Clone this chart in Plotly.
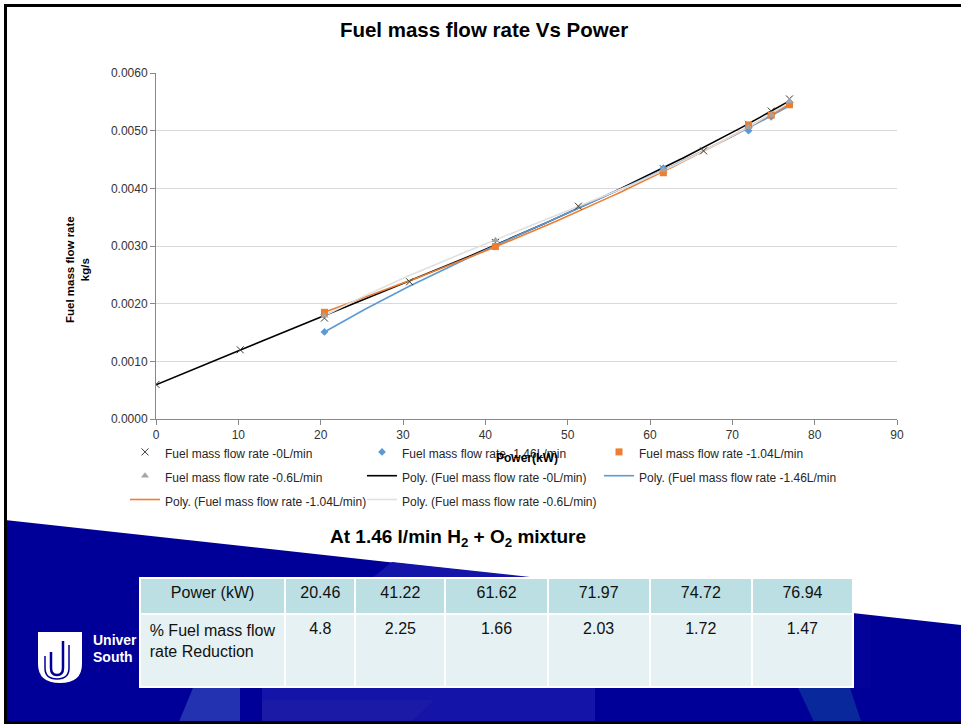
import numpy as np
import plotly.graph_objects as go

# figure size and margins (pixels)
W, H = 961, 724
ML, MR = 120, 40
PW = W - ML - MR


def fx(px):
    # pixel x -> paper fraction
    return (px - ML) / PW


def fy(py):
    # pixel y (from top) -> paper fraction
    return (H - py) / H


def path(points):
    return "M " + " L ".join(f"{fx(x):.5f},{fy(y):.5f}" for x, y in points) + " Z"


# ---- data ----
power_0 = [0, 10.23, 20.46, 30.8, 41.22, 51.3, 61.62, 66.5, 71.97, 74.72, 76.94]
fuel_0 = [0.00060, 0.00120, 0.00175, 0.00238, 0.00306, 0.00369, 0.00434, 0.00465, 0.00511, 0.00534, 0.00555]

power_h = [20.46, 41.22, 61.62, 71.97, 74.72, 76.94]
fuel_146 = [0.00151, 0.00300, 0.00435, 0.00500, 0.00524, 0.00547]
fuel_104 = [0.00185, 0.00299, 0.00427, 0.00510, 0.00527, 0.00545]
fuel_06 = [0.00179, 0.00310, 0.00432, 0.00506, 0.00527, 0.00551]

table_power = ["20.46", "41.22", "61.62", "71.97", "74.72", "76.94"]
table_reduction = ["4.8", "2.25", "1.66", "2.03", "1.72", "1.47"]

FONT = "Liberation Sans, Arial, sans-serif"


def lg(name):
    # small text, but keep the legend's 16px row height
    return f'<span style="font-size:12px">{name}</span>'


series = [
    # name, x, y, symbol, size, marker colour, trend colour
    ("Fuel mass flow rate -0L/min", power_0, fuel_0, "x-thin", 7, "#3b3b2b", "#000000"),
    ("Fuel mass flow rate -1.46L/min", power_h, fuel_146, "diamond", 6, "#5B9BD5", "#5B9BD5"),
    ("Fuel mass flow rate -1.04L/min", power_h, fuel_104, "square", 7, "#ED7D31", "#ED7D31"),
    ("Fuel mass flow rate -0.6L/min", power_h, fuel_06, "triangle-up", 7, "#A5A5A5", "#E0E0E0"),
]

fig = go.Figure()

# polynomial trendlines (drawn first so markers sit on top)
for i, (name, xs, ys, sym, size, mcol, lcol) in enumerate(series):
    coef = np.polyfit(xs, ys, 3)
    xfit = np.linspace(min(xs), max(xs), 150)
    fig.add_trace(go.Scatter(
        x=xfit, y=np.polyval(coef, xfit), mode="lines",
        name=lg(f"Poly. ({name})"),
        line=dict(color=lcol, width=1.6),
        legendrank=10 + i,
    ))

for i, (name, xs, ys, sym, size, mcol, lcol) in enumerate(series):
    marker = dict(symbol=sym, size=size, color=mcol)
    if sym == "x-thin":
        marker["line"] = dict(color=mcol, width=1)
    fig.add_trace(go.Scatter(
        x=xs, y=ys, mode="markers", name=lg(name),
        marker=marker, legendrank=i,
    ))

fig.add_trace(go.Table(
    domain=dict(x=[fx(140), fx(853)], y=[fy(688), fy(578)]),
    columnwidth=[145, 70, 90, 102, 102, 102, 101],
    header=dict(
        values=["Power (kW)"] + table_power,
        fill_color="#BBDFE3", line=dict(color="white", width=2),
        font=dict(family=FONT, size=16, color="#111111"),
        align="center", height=36,
    ),
    cells=dict(
        values=[["% Fuel mass flow<br>rate Reduction"]] + [[v] for v in table_reduction],
        fill_color="#E6F1F3", line=dict(color="white", width=2),
        font=dict(family=FONT, size=16, color="#111111"),
        align="center", height=73,
    ),
))

blue = "#000099"
shapes = [
    # dark blue slide background under the diagonal
    dict(type="path", path=path([(5, 520), (980, 627), (980, 730), (5, 730)]),
         fillcolor=blue, line=dict(width=0), layer="below"),
    # faint lighter decoration
    dict(type="path", path=path([(372, 578), (392, 562), (530, 577), (530, 578)]),
         fillcolor="#1414a8", line=dict(width=0), layer="below"),
    dict(type="path", path=path([(193, 688), (240, 688), (240, 724), (178, 724)]),
         fillcolor="#2232b0", line=dict(width=0), layer="below"),
    dict(type="path", path=path([(262, 688), (595, 688), (595, 724), (410, 724), (435, 700), (262, 700)]),
         fillcolor="#1414a8", line=dict(width=0), layer="below"),
    dict(type="path", path=path([(262, 700), (435, 700), (410, 724), (262, 724)]),
         fillcolor="#1a1aa6", line=dict(width=0), layer="below"),
    dict(type="path", path=path([(798, 688), (850, 688), (862, 724), (815, 724)]),
         fillcolor="#08289c", line=dict(width=0), layer="below"),
    # university logo shield
    dict(type="path",
         path=(f"M {fx(38):.5f},{fy(632):.5f} L {fx(82):.5f},{fy(632):.5f} "
               f"L {fx(82):.5f},{fy(664):.5f} Q {fx(82):.5f},{fy(683):.5f} {fx(60):.5f},{fy(683):.5f} "
               f"Q {fx(38):.5f},{fy(683):.5f} {fx(38):.5f},{fy(664):.5f} Z"),
         fillcolor="white", line=dict(width=0), layer="below"),
    dict(type="path",
         path=(f"M {fx(63):.5f},{fy(641):.5f} L {fx(63):.5f},{fy(668):.5f} "
               f"Q {fx(63):.5f},{fy(675):.5f} {fx(57):.5f},{fy(675):.5f} "
               f"Q {fx(51):.5f},{fy(675):.5f} {fx(51):.5f},{fy(668):.5f} L {fx(51):.5f},{fy(652):.5f}"),
         line=dict(color=blue, width=2.5), layer="below"),
    dict(type="path",
         path=(f"M {fx(69):.5f},{fy(645):.5f} L {fx(69):.5f},{fy(668):.5f} "
               f"Q {fx(69):.5f},{fy(679):.5f} {fx(57):.5f},{fy(679):.5f} "
               f"Q {fx(45):.5f},{fy(679):.5f} {fx(45):.5f},{fy(668):.5f} L {fx(45):.5f},{fy(656):.5f}"),
         line=dict(color=blue, width=1.5), layer="below"),
    # slide frame
    dict(type="rect", x0=fx(5.5), x1=fx(990), y0=fy(5.5), y1=fy(722.5),
         line=dict(color="black", width=3), layer="above"),
]
for s in shapes:
    s.setdefault("xref", "paper")
    s.setdefault("yref", "paper")

annotations = [
    dict(text="<b>Fuel mass flow rate<br>kg/s</b>", textangle=-90, x=fx(77), y=fy(270),
         font=dict(size=11.5, color="black")),
    dict(text="<b>Power(kW)</b>", x=fx(527), y=fy(458), font=dict(size=12, color="black")),
    dict(text="<b>At 1.46 l/min H<sub>2</sub> + O<sub>2</sub> mixture</b>", x=fx(458), y=fy(538),
         font=dict(size=19, color="black")),
    dict(text="<b>Univer</b>", x=fx(91), y=fy(640), xanchor="left", font=dict(size=14, color="white")),
    dict(text="<b>South</b>", x=fx(91), y=fy(657), xanchor="left", font=dict(size=14, color="white")),
]
for a in annotations:
    a.setdefault("xanchor", "center")
    a.update(xref="paper", yref="paper", yanchor="middle", showarrow=False)

fig.update_layout(
    width=W, height=H,
    margin=dict(l=ML, r=MR, t=0, b=0),
    paper_bgcolor="white", plot_bgcolor="white",
    font=dict(family=FONT, color="#404040"),
    title=dict(text="<b>Fuel mass flow rate Vs Power</b>", x=484 / W, xref="container", xanchor="center",
               y=(H - 30) / H, yref="container", yanchor="middle",
               font=dict(size=20.5, color="black")),
    xaxis=dict(domain=[fx(156), fx(897)], range=[0, 90], dtick=10, showgrid=False, zeroline=False,
               showline=True, linecolor="#888888", ticks="outside", ticklen=5, tickcolor="#888888",
               tickfont=dict(size=12, color="#333333"), automargin=False),
    yaxis=dict(domain=[fy(419), fy(73)], range=[0, 0.006], dtick=0.001, tickformat=".4f",
               gridcolor="#D9D9D9", zeroline=False, showline=True, linecolor="#888888",
               ticks="outside", ticklen=5, tickcolor="#888888",
               tickfont=dict(size=12, color="#333333"), automargin=False),
    legend=dict(orientation="h", x=fx(125), xanchor="left", y=fy(435), yanchor="top",
                entrywidth=192, itemwidth=30, font=dict(size=16, color="#262626"),
                bgcolor="rgba(0,0,0,0)"),
    shapes=shapes,
    annotations=annotations,
)

# page margin off so the slide fills the window
fig.write_html("out.html", config={"displayModeBar": False},
               post_script="document.body.style.margin = '0px';")
